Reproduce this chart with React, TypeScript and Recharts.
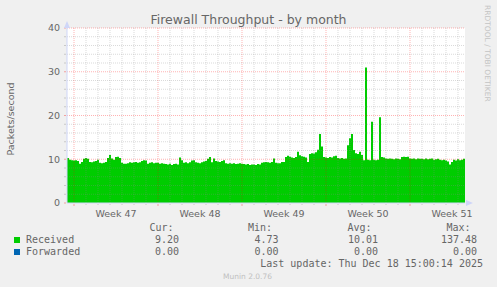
import React from "react";
import { Area, AreaChart, CartesianGrid, ReferenceLine, XAxis, YAxis } from "recharts";

// Received packets/s, one sample every 4 hours
const receivedValues = [
  10.3, 9.9, 9.8, 9.7, 9.8, 9.6, 9.0, 9.4, 10.1, 10.3,
  10.1, 9.4, 9.3, 9.5, 9.6, 9.9, 9.2, 9.1, 9.2, 9.4,
  10.3, 11.0, 10.2, 9.9, 10.5, 10.6, 10.3, 9.2, 9.0, 9.0,
  9.1, 9.3, 9.2, 9.3, 9.4, 9.2, 9.3, 9.6, 9.8, 9.7,
  9.0, 9.2, 9.3, 9.1, 9.2, 9.2, 9.0, 9.1, 9.0, 8.9,
  8.8, 9.0, 8.7, 8.9, 9.0, 8.8, 10.4, 9.8, 9.2, 9.3,
  9.1, 9.3, 9.7, 9.8, 9.3, 9.2, 9.1, 9.3, 9.5, 9.6,
  10.1, 10.5, 9.3, 10.2, 9.6, 9.5, 9.4, 9.6, 9.8, 9.1,
  9.0, 9.1, 9.0, 9.1, 8.9, 9.0, 9.1, 9.0, 8.9, 8.8,
  8.9, 8.7, 8.8, 8.8, 8.7, 8.9, 8.8, 9.2, 9.3, 9.4,
  9.3, 9.2, 9.4, 10.2, 9.2, 9.1, 9.1, 9.4, 9.4, 10.5,
  10.8, 10.6, 10.4, 10.3, 10.5, 11.7, 10.9, 10.7, 10.6, 10.4,
  9.4, 11.2, 11.4, 11.3, 11.6, 12.2, 15.8, 12.9, 10.5, 10.4,
  10.3, 10.5, 10.4, 10.7, 10.8, 10.3, 10.2, 10.3, 10.1, 10.2,
  13.2, 14.8, 15.8, 12.1, 11.4, 11.2, 11.7, 11.0, 9.8, 31.0,
  9.9, 9.8, 18.6, 9.9, 9.8, 9.9, 19.6, 10.5, 10.4, 10.2,
  10.1, 10.2, 10.1, 10.0, 10.2, 10.1, 10.0, 10.5, 10.6, 10.5,
  10.6, 10.2, 10.1, 10.2, 10.0, 10.2, 10.1, 10.1, 10.0, 10.2,
  10.0, 10.1, 10.2, 9.9, 10.0, 10.1, 9.9, 9.8, 9.9, 9.7,
  9.5, 8.8, 9.4, 9.9, 9.7, 10.0, 9.8, 9.9, 10.1, 9.8,
];

const weekLabels = ["Week 47", "Week 48", "Week 49", "Week 50", "Week 51"];
const yTickValues = [0, 2, 4, 6, 8, 10, 12, 14, 16, 18, 20, 22, 24, 26, 28, 30, 32, 34, 36, 38, 40];
const yLabelValues = [0, 10, 20, 30, 40];

const legendNames = ["Received", "Forwarded"];
const curValues = ["9.20", "0.00"];
const minValues = ["4.73", "0.00"];
const avgValues = ["10.01", "0.00"];
const maxValues = ["137.48", "0.00"];
const lastUpdate = "Last update: Thu Dec 18 15:00:14 2025";

const SAMPLES_PER_DAY = 6;
const FIRST_MONDAY = 7 / 12; // days from start of graph
const X_END = (receivedValues.length - 1) / SAMPLES_PER_DAY;

const data = receivedValues.map((v, i) => ({ t: i / SAMPLES_PER_DAY, v }));

const dayLines: number[] = [];
for (let d = FIRST_MONDAY; d <= X_END; d += 1) dayLines.push(d);
const weekLines = weekLabels.map((_, i) => FIRST_MONDAY + i * 7);
const labelPos = weekLabels.map((_, i) => FIRST_MONDAY + i * 7 + 3.5);

const near = (a: number, list: number[]) => list.findIndex((b) => Math.abs(a - b) < 1e-6);

const FONT = "'DejaVu Sans', sans-serif";
const MONO = "'DejaVu Sans Mono', monospace";
const TEXT = "#666666";
const AXIS = "#CFD6F8";
const MINOR = "rgba(140,140,140,0.32)";
const MAJOR = "rgba(255,0,0,0.3)";

function XTick({ x, y, payload }: any) {
  const v = payload.value;
  const li = near(v, labelPos);
  if (li >= 0) {
    return (
      <text x={x} y={y + 13.5} textAnchor="middle" fontFamily={FONT} fontSize={9.5} fill={TEXT}>
        {weekLabels[li]}
      </text>
    );
  }
  const major = near(v, weekLines) >= 0;
  return <line x1={x} x2={x} y1={y + 1} y2={y + (major ? 3 : 2)} stroke={major ? "#F2A0A0" : "#C8C8C8"} />;
}

function YTick({ x, y, payload }: any) {
  const v = payload.value;
  const major = yLabelValues.includes(v);
  return (
    <g>
      <line x1={x - 3} x2={x - 1} y1={y} y2={y} stroke={major ? "#F2A0A0" : "#C8C8C8"} />
      {major && (
        <text x={x - 7} y={y + 3.4} textAnchor="end" fontFamily={FONT} fontSize={9.5} fill={TEXT}>
          {v}
        </text>
      )}
    </g>
  );
}

export default function App() {
  const rowY = [243, 255];
  const colEnd = [179, 278.5, 378, 477];
  const headers = [
    { x: 149.5, s: "Cur:" },
    { x: 248, s: "Min:" },
    { x: 347.5, s: "Avg:" },
    { x: 446.5, s: "Max:" },
  ];
  const colors = ["#00CC00", "#0066B3"];
  return (
    <div style={{ position: "absolute", left: 0, top: 0, width: 497, height: 287, background: "#F0F0F0" }}>
      <AreaChart
        width={497}
        height={287}
        data={data}
        margin={{ top: 28, right: 32, bottom: 54, left: 0 }}
        style={{ position: "absolute", left: 0, top: 0 }}
      >
        <CartesianGrid horizontal={false} vertical={false} fill="#FFFFFF" />
        <XAxis
          dataKey="t"
          type="number"
          domain={[0, X_END]}
          ticks={[...dayLines, ...labelPos].sort((a, b) => a - b)}
          interval={0}
          height={30}
          tickSize={0}
          tickMargin={0}
          tickLine={false}
          axisLine={{ stroke: AXIS }}
          tick={<XTick />}
        />
        <YAxis
          type="number"
          domain={[0, 40]}
          ticks={yTickValues}
          interval={0}
          width={67}
          tickSize={0}
          tickMargin={0}
          tickLine={false}
          axisLine={{ stroke: AXIS }}
          tick={<YTick />}
        />
        <Area
          type="stepAfter"
          dataKey="v"
          stroke="none"
          fill="#00CC00"
          fillOpacity={1}
          isAnimationActive={false}
          dot={false}
          activeDot={false}
        />
        {yTickValues
          .filter((v) => v > 0)
          .map((v) => (
            <ReferenceLine
              key={"h" + v}
              y={v}
              stroke={yLabelValues.includes(v) ? MAJOR : MINOR}
              strokeDasharray="1 1"
            />
          ))}
        {dayLines.map((d) => (
          <ReferenceLine
            key={"v" + d}
            x={d}
            stroke={near(d, weekLines) >= 0 ? MAJOR : MINOR}
            strokeDasharray="1 1"
          />
        ))}
      </AreaChart>
      <svg
        width={497}
        height={287}
        style={{ position: "absolute", left: 0, top: 0, pointerEvents: "none" }}
      >
        <text x={248.5} y={23.5} textAnchor="middle" fontFamily={FONT} fontSize={12.5} fill={TEXT}>
          Firewall Throughput - by month
        </text>
        <text
          x={14}
          y={119}
          textAnchor="middle"
          transform="rotate(-90 14 119)"
          fontFamily={FONT}
          fontSize={9.5}
          fill={TEXT}
        >
          Packets/second
        </text>
        <text
          x={485}
          y={5}
          transform="rotate(90 485 5)"
          fontFamily={FONT}
          fontSize={7.5}
          fill="#C4C4C4"
        >
          RRDTOOL / TOBI OETIKER
        </text>
        <polygon points="64,28 67,21 70,28" fill={AXIS} />
        <polygon points="466,200 473,203 466,206" fill={AXIS} />
        {headers.map((h) => (
          <text key={h.s} x={h.x} y={231} fontFamily={MONO} fontSize={10} fill={TEXT}>
            {h.s}
          </text>
        ))}
        {legendNames.map((n, i) => (
          <g key={n}>
            <rect x={14} y={rowY[i] - 6} width={6} height={6} fill={colors[i]} />
            <text x={26} y={rowY[i]} fontFamily={MONO} fontSize={10} fill={TEXT}>
              {n}
            </text>
            {[curValues[i], minValues[i], avgValues[i], maxValues[i]].map((s, j) => (
              <text key={j} x={colEnd[j]} y={rowY[i]} textAnchor="end" fontFamily={MONO} fontSize={10} fill={TEXT}>
                {s}
              </text>
            ))}
          </g>
        ))}
        <text x={483} y={266.5} textAnchor="end" fontFamily={MONO} fontSize={10} fill={TEXT}>
          {lastUpdate}
        </text>
        <text x={247.5} y={279} textAnchor="middle" fontFamily={FONT} fontSize={7.5} fill="#C0C0C0">
          Munin 2.0.76
        </text>
      </svg>
    </div>
  );
}
